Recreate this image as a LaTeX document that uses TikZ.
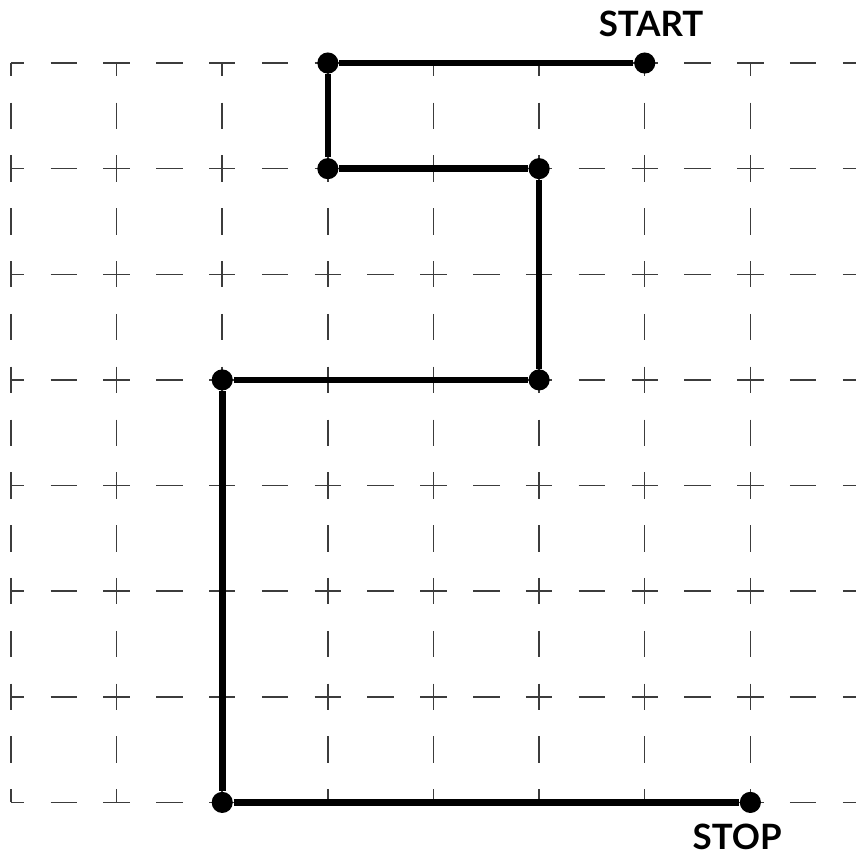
\documentclass[tikz,border=0pt]{standalone}
\usepackage{fontspec}
\setsansfont{Lato}
\usepackage{tikz}
\usetikzlibrary{positioning}
\definecolor{ink}{RGB}{0,0,0}
\definecolor{gridgray}{RGB}{60,60,60}

\begin{document}
\begin{tikzpicture}[x=1cm,y=1cm,
  gridline/.style={draw=gridgray,line width=0.4pt,
     dash pattern=on 0.25cm off 0.25cm,dash phase=0.125cm},
  dot/.style={circle,fill=ink,inner sep=0pt,minimum size=0.2cm},
  route/.style={draw=ink,line width=1.8pt},
  lbl/.style={font=\sffamily\bfseries\fontsize{9.4}{10}\selectfont,text=ink,inner sep=0pt}]
\useasboundingbox (-0.104,-0.492) rectangle (8.0,7.597);
% dashed grid
\foreach \r in {0,...,7}
  \draw[gridline] (0,\r) -- (8.2,\r);
\foreach \c in {0,...,7}
  \draw[gridline] (\c,7) -- (\c,0);
% route points
\node[dot] (s) at (6,7) {};
\node[dot] (a) at (3,7) {};
\node[dot] (b) at (3,6) {};
\node[dot] (c) at (5,6) {};
\node[dot] (d) at (5,4) {};
\node[dot] (e) at (2,4) {};
\node[dot] (f) at (2,0) {};
\node[dot] (t) at (7,0) {};
\draw[route] (s)--(a);\draw[route] (a)--(b);\draw[route] (b)--(c);
\draw[route] (c)--(d);\draw[route] (d)--(e);\draw[route] (e)--(f);
\draw[route] (f)--(t);
\node[lbl] (startlbl) at (6.06,7.37) {START};
\node[lbl] (stoplbl) at (6.875,-0.33) {STOP};
\end{tikzpicture}
\end{document}
